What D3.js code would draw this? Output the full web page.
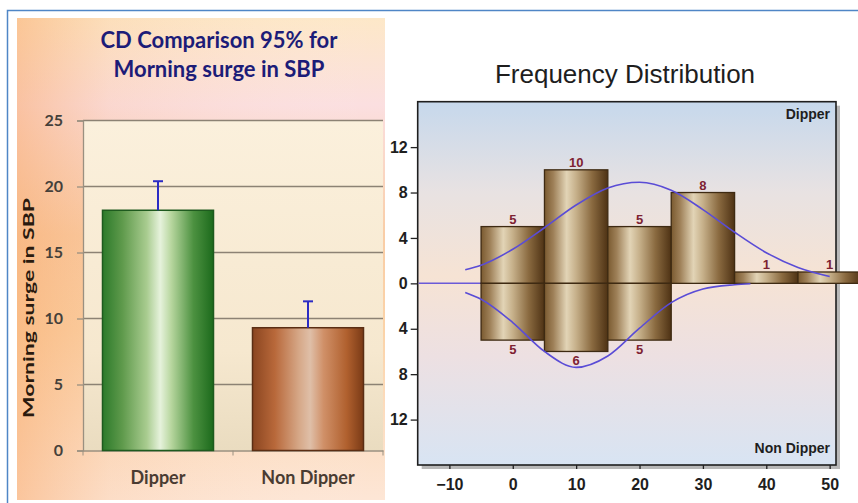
<!DOCTYPE html>
<html>
<head>
<meta charset="utf-8">
<script src="https://cdn.jsdelivr.net/npm/d3@7"></script>
<style>
body { margin: 0; background: #fff; }
svg { display: block; }
</style>
</head>
<body>
<svg class="chart"></svg>
<script>
// left chart data
const groups = ["Dipper", "Non Dipper"]
const means = [18.2, 9.3]
const upperCI = [20.4, 11.3]
const leftTicks = [0, 5, 10, 15, 20, 25]

// right chart data (bins of width 10)
const binCentres = [0, 10, 20, 30, 40, 50]
const dipperCounts = [5, 10, 5, 8, 1, 1]
const nonDipperCounts = [5, 6, 5, 0, 0, 0]
const freqTicks = [-12, -8, -4, 0, 4, 8, 12]
const xTicks = [-10, 0, 10, 20, 30, 40, 50]

// fitted curves [x, count]
const dipperCurve = [[-7.5,1.2],[-5,1.6],[0,3.0],[5,4.9],[10,6.9],[15,8.4],[20,8.9],[25,8.2],[30,6.5],[35,4.5],[40,2.7],[45,1.4],[50,0.6]]
const nonDipperCurve = [[-7.5,-0.8],[-5,-1.4],[0,-3.45],[5,-6.0],[10,-7.4],[15,-6.4],[20,-3.95],[25,-1.7],[30,-0.5],[35,-0.12],[37.5,-0.03]]

const W = 858, H = 503
const svg = d3.select(".chart")
.attr("width", W)
.attr("height", H)

const defs = svg.append("defs")

function addLinear(id, stops, vertical) {
  const g = defs.append("linearGradient")
  .attr("id", id)
  .attr("x1", "0").attr("y1", "0")
  .attr("x2", vertical ? "0" : "1").attr("y2", vertical ? "1" : "0")
  stops.forEach(s => {
    g.append("stop").attr("offset", s[0]).attr("stop-color", s[1])
  })
}

addLinear("panelBg", [["0%","#fde8c8"],["18%","#fbdfe0"],["45%","#f9cda6"],["65%","#fbd3a8"],["100%","#fde6d6"]], true)
addLinear("panelSide", [["0%","rgba(248,165,100,0.5)"],["25%","rgba(248,170,110,0.15)"],["100%","rgba(255,255,255,0)"]], false)
addLinear("plotBg", [["0%","#fbf0dc"],["70%","#f6e8cf"],["100%","#eadcc0"]], true)
addLinear("green", [["0%","#2c7a2a"],["18%","#5f9a4c"],["40%","#a9cc90"],["52%","#e6f2dc"],["62%","#b7d69e"],["82%","#4c9140"],["100%","#1c6a1c"]], false)
addLinear("brown", [["0%","#8a4520"],["20%","#b8683a"],["42%","#d6a888"],["52%","#dfbfa8"],["64%","#d09068"],["85%","#b0602e"],["100%","#7a3a16"]], false)
addLinear("freqBg", [["0%","#c6d8ec"],["25%","#e8e2e2"],["48%","#f6e3d4"],["70%","#ede0e2"],["100%","#d8e4f3"]], true)
addLinear("bronze", [["0%","#7a5a30"],["14%","#9e8058"],["35%","#e2d4b6"],["50%","#c6b08a"],["75%","#8a6a40"],["100%","#4e3214"]], false)

// outer border
svg.append("rect")
.attr("x", 7.5).attr("y", 10.5)
.attr("width", 900).attr("height", 520)
.attr("fill", "none")
.style("stroke", "#4f86c6")
.style("stroke-width", "1.5px")

// ---------- left chart ----------
svg.append("rect")
.attr("x", 17).attr("y", 18).attr("width", 368).attr("height", 482)
.attr("fill", "url(#panelBg)")
svg.append("rect")
.attr("x", 17).attr("y", 18).attr("width", 368).attr("height", 482)
.attr("fill", "url(#panelSide)")

const lx = d3.scaleBand().domain(groups).range([83, 383]).paddingInner(0.26).paddingOuter(0.13)
const ly = d3.scaleLinear().domain([0, 25]).range([450.5, 120.5])

svg.append("rect")
.attr("x", 83).attr("y", ly(25)).attr("width", 300).attr("height", ly(0) - ly(25))
.attr("fill", "url(#plotBg)")

const left = svg.append("g")
left.append("g")
.selectAll("line")
.data(leftTicks.filter(d => d > 0))
.enter()
.append("line")
.attr("x1", 83).attr("x2", 383)
.attr("y1", d => ly(d)).attr("y2", d => ly(d))
.style("stroke", "#8c8274")
.style("stroke-width", "1.3px")

const lAxis = left.append("g")
.attr("transform", "translate(83,0)")
.call(d3.axisLeft(ly).tickValues(leftTicks).tickSize(6).tickPadding(14))
lAxis.select(".domain").style("stroke", "#9a9080").style("stroke-width", "1.3px")
lAxis.selectAll(".tick line").style("stroke", "#9a9080").style("stroke-width", "1.3px")
lAxis.selectAll("text")
.style("font-family", "Lato, sans-serif")
.style("font-weight", "bold")
.style("font-size", "16px")
.style("fill", "#45403a")

const bAxis = left.append("g")
.attr("transform", "translate(0," + ly(0) + ")")
.call(d3.axisBottom(lx).tickSize(0).tickPadding(21))
bAxis.select(".domain").style("stroke", "#9a9080").style("stroke-width", "1.3px")
bAxis.selectAll("text")
.style("font-family", "Lato, sans-serif")
.style("font-weight", "bold")
.style("font-size", "18px")
.style("fill", "#4a3c32")
// small separators under the axis
left.selectAll(".sep")
.data([83, 233, 383])
.enter()
.append("line")
.attr("x1", d => d).attr("x2", d => d)
.attr("y1", ly(0)).attr("y2", ly(0) + 5)
.style("stroke", "#9a9080")

left.selectAll(".bar")
.data(groups)
.enter()
.append("rect")
.attr("x", d => lx(d))
.attr("y", (d, i) => ly(means[i]))
.attr("width", lx.bandwidth())
.attr("height", (d, i) => ly(0) - ly(means[i]))
.attr("fill", (d, i) => i == 0 ? "url(#green)" : "url(#brown)")
.style("stroke", (d, i) => i == 0 ? "#1e5a1e" : "#5a2e14")
.style("stroke-width", "1.5px")

const err = left.selectAll(".err")
.data(groups)
.enter()
.append("g")
err.append("line")
.attr("x1", d => lx(d) + lx.bandwidth() / 2).attr("x2", d => lx(d) + lx.bandwidth() / 2)
.attr("y1", (d, i) => ly(means[i])).attr("y2", (d, i) => ly(upperCI[i]))
.style("stroke", "#2b2bc4").style("stroke-width", "2px")
err.append("line")
.attr("x1", d => lx(d) + lx.bandwidth() / 2 - 5).attr("x2", d => lx(d) + lx.bandwidth() / 2 + 5)
.attr("y1", (d, i) => ly(upperCI[i])).attr("y2", (d, i) => ly(upperCI[i]))
.style("stroke", "#2b2bc4").style("stroke-width", "2px")

svg.append("text")
.attr("x", 219).attr("y", 48)
.attr("text-anchor", "middle")
.style("font-family", "Lato, sans-serif").style("font-weight", "bold")
.style("font-size", "22px").style("fill", "#1c1c78")
.text("CD Comparison 95% for")
svg.append("text")
.attr("x", 219).attr("y", 77)
.attr("text-anchor", "middle")
.style("font-family", "Lato, sans-serif").style("font-weight", "bold")
.style("font-size", "22px").style("fill", "#1c1c78")
.text("Morning surge in SBP")

svg.append("text")
.attr("transform", "translate(34,308) rotate(-90)")
.attr("text-anchor", "middle")
.attr("textLength", 220)
.attr("lengthAdjust", "spacingAndGlyphs")
.style("font-family", "Lato, sans-serif").style("font-weight", "bold")
.style("font-size", "15px").style("fill", "#2a1a0e")
.text("Morning surge in SBP")

// ---------- right chart ----------
const fx = d3.scaleLinear().domain([-15, 51]).range([417.7, 836])
const fy = d3.scaleLinear().domain([-16, 16]).range([465, 101.7])

svg.append("text")
.attr("x", 625).attr("y", 83)
.attr("text-anchor", "middle")
.style("font-family", "Liberation Sans, Arial, sans-serif")
.style("font-size", "26px").style("fill", "#1e1e1e")
.text("Frequency Distribution")

// shadow + frame
svg.append("rect")
.attr("x", fx(-15) + 4).attr("y", fy(16) + 4)
.attr("width", fx(51) - fx(-15)).attr("height", fy(-16) - fy(16))
.attr("fill", "#9a9a9a").attr("opacity", 0.7)
svg.append("rect")
.attr("x", fx(-15)).attr("y", fy(16))
.attr("width", fx(51) - fx(-15)).attr("height", fy(-16) - fy(16))
.attr("fill", "url(#freqBg)")

// frame border
svg.append("rect")
.attr("x", fx(-15)).attr("y", fy(16))
.attr("width", fx(51) - fx(-15)).attr("height", fy(-16) - fy(16))
.attr("fill", "none")
.style("stroke", "#1e1e1e").style("stroke-width", "1.6px")

const freq = svg.append("g")

freq.append("line")
.attr("x1", fx(-15) + 1).attr("x2", fx(51))
.attr("y1", fy(0)).attr("y2", fy(0))
.style("stroke", "#6a5ad8").style("stroke-width", "1.5px")

const binW = 10
function drawBars(counts, up) {
  const g = freq.append("g")
  const sel = g.selectAll("g")
  .data(binCentres.map((c, i) => ({c: c, n: counts[i]})).filter(d => d.n > 0))
  .enter()
  sel.append("rect")
  .attr("x", d => fx(d.c - binW / 2))
  .attr("y", d => up ? fy(d.n) : fy(0))
  .attr("width", d => fx(d.c + binW / 2) - fx(d.c - binW / 2))
  .attr("height", d => Math.abs(fy(d.n) - fy(0)))
  .attr("fill", "url(#bronze)")
  .style("stroke", "#3e2a12")
  .style("stroke-width", "1.3px")
  sel.append("text")
  .attr("x", d => fx(d.c))
  .attr("y", d => up ? fy(d.n) - 3 : fy(-d.n) + 14)
  .attr("text-anchor", "middle")
  .style("font-family", "Liberation Sans, Arial, sans-serif")
  .style("font-weight", "bold").style("font-size", "13px")
  .style("fill", "#7e2232")
  .text(d => d.n)
}
drawBars(dipperCounts, true)
drawBars(nonDipperCounts, false)

const curveLine = d3.line()
.x(d => fx(d[0]))
.y(d => fy(d[1]))
.curve(d3.curveMonotoneX)

freq.selectAll(".curve")
.data([dipperCurve, nonDipperCurve])
.enter()
.append("path")
.attr("d", d => curveLine(d))
.attr("fill", "none")
.style("stroke", "#5a4cd6")
.style("stroke-width", "1.6px")

const yAxis = svg.append("g")
.attr("transform", "translate(" + fx(-15) + ",0)")
.call(d3.axisLeft(fy).tickValues(freqTicks).tickFormat(d => Math.abs(d)).tickSize(7).tickPadding(3))
yAxis.select(".domain").remove()
yAxis.selectAll(".tick line").style("stroke", "#222").style("stroke-width", "1.3px")
yAxis.selectAll("text")
.style("font-family", "Liberation Sans, Arial, sans-serif")
.style("font-weight", "bold").style("font-size", "16px").style("fill", "#1e1e1e")

const xAxis = svg.append("g")
.attr("transform", "translate(0," + fy(-16) + ")")
.call(d3.axisBottom(fx).tickValues(xTicks).tickSize(4).tickPadding(10))
xAxis.select(".domain").remove()
xAxis.selectAll(".tick line").style("stroke", "#222").style("stroke-width", "1.3px")
xAxis.selectAll("text")
.style("font-family", "Liberation Sans, Arial, sans-serif")
.style("font-weight", "bold").style("font-size", "16px").style("fill", "#1e1e1e")

svg.append("text")
.attr("x", fx(51) - 6).attr("y", fy(16) + 17)
.attr("text-anchor", "end")
.style("font-family", "Liberation Sans, Arial, sans-serif")
.style("font-weight", "bold").style("font-size", "14px").style("fill", "#1e1e1e")
.text("Dipper")
svg.append("text")
.attr("x", fx(51) - 6).attr("y", fy(-16) - 12)
.attr("text-anchor", "end")
.style("font-family", "Liberation Sans, Arial, sans-serif")
.style("font-weight", "bold").style("font-size", "14px").style("fill", "#1e1e1e")
.text("Non Dipper")
</script>
</body>
</html>
